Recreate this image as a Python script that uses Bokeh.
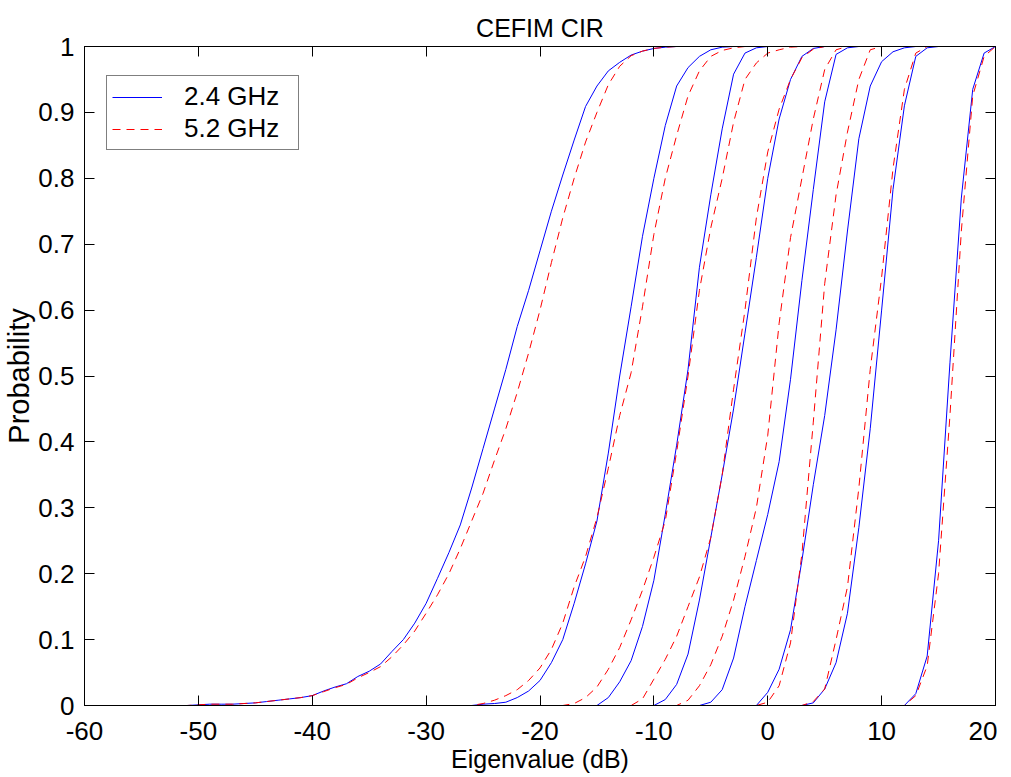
from bokeh.plotting import figure
from bokeh.models import (LinearAxis, FixedTicker, Range1d, Legend, LegendItem,
                          CustomJSTickFormatter)
from bokeh.embed import file_html
from bokeh.resources import INLINE

# ---------------- data ----------------
x_db = list(range(-55, 21))          # eigenvalue grid (dB)

x_ticks = [-60, -50, -40, -30, -20, -10, 0, 10, 20]
x_tick_labels = ["-60", "-50", "-40", "-30", "-20", "-10", "0", "10", "20"]
y_ticks = [0, 0.1, 0.2, 0.3, 0.4, 0.5, 0.6, 0.7, 0.8, 0.9, 1]
y_tick_labels = ["0", "0.1", "0.2", "0.3", "0.4", "0.5", "0.6", "0.7", "0.8", "0.9", "1"]

# first grid value (dB) of each listed CDF segment; before it P=0, after it P=1
blue_first = [-50, -25, -14, -9, -5, 0, 4, 13]
red_first = [-50, -25, -17, -11, -7, 0, 4, 13]

# 2.4 GHz eigenvalue CDFs
b1 = [0.001, 0.002, 0.002, 0.002, 0.003, 0.004, 0.006, 0.008, 0.010, 0.012, 0.015,
      0.022, 0.028, 0.033, 0.044, 0.052, 0.063, 0.082, 0.100, 0.125, 0.155, 0.193,
      0.232, 0.274, 0.330, 0.390, 0.450, 0.510, 0.575, 0.630, 0.690, 0.750, 0.805,
      0.858, 0.909, 0.940, 0.963, 0.976, 0.987, 0.993, 0.997, 0.999]
b2 = [0.002, 0.003, 0.005, 0.012, 0.022, 0.038, 0.065, 0.100, 0.155, 0.215, 0.280,
      0.383, 0.500, 0.605, 0.712, 0.800, 0.880, 0.940, 0.968, 0.985, 0.995, 0.999]
b3 = [0.012, 0.036, 0.068, 0.120, 0.190, 0.290, 0.395, 0.510, 0.665, 0.775, 0.875,
      0.958, 0.990, 0.998]
b4 = [0.009, 0.032, 0.078, 0.160, 0.255, 0.350, 0.450, 0.565, 0.680, 0.800, 0.890,
      0.950, 0.985, 0.997]
b5 = [0.005, 0.024, 0.072, 0.150, 0.220, 0.290, 0.370, 0.495, 0.645, 0.783, 0.916,
      0.988, 0.998]
b6 = [0.020, 0.055, 0.115, 0.220, 0.335, 0.440, 0.570, 0.720, 0.860, 0.940, 0.977,
      0.992, 0.998]
b7 = [0.004, 0.025, 0.065, 0.140, 0.270, 0.420, 0.600, 0.783, 0.910, 0.985, 0.998]
b8 = [0.018, 0.075, 0.250, 0.520, 0.770, 0.935, 0.990]

# 5.2 GHz eigenvalue CDFs
r1 = [0.001, 0.002, 0.002, 0.002, 0.003, 0.004, 0.006, 0.008, 0.010, 0.012, 0.015,
      0.021, 0.027, 0.032, 0.042, 0.050, 0.059, 0.074, 0.092, 0.113, 0.140, 0.168,
      0.200, 0.238, 0.280, 0.322, 0.372, 0.420, 0.475, 0.535, 0.600, 0.672, 0.740,
      0.800, 0.855, 0.900, 0.942, 0.970, 0.986, 0.993, 0.997, 0.999]
r2 = [0.003, 0.008, 0.015, 0.024, 0.038, 0.057, 0.085, 0.125, 0.180, 0.226, 0.285,
      0.360, 0.440, 0.505, 0.605, 0.715, 0.800, 0.865, 0.925, 0.963, 0.985, 0.994,
      0.998]
r3 = [0.003, 0.012, 0.028, 0.055, 0.088, 0.130, 0.175, 0.225, 0.280, 0.385, 0.500,
      0.630, 0.725, 0.800, 0.885, 0.950, 0.975, 0.990, 0.995, 0.999]
r4 = [0.010, 0.040, 0.070, 0.105, 0.150, 0.195, 0.255, 0.350, 0.480, 0.600, 0.740,
      0.840, 0.905, 0.950, 0.983, 0.996]
r5 = [0.008, 0.030, 0.062, 0.105, 0.160, 0.226, 0.300, 0.410, 0.580, 0.710, 0.800,
      0.890, 0.965, 0.995]
r6 = [0.005, 0.030, 0.095, 0.230, 0.430, 0.640, 0.775, 0.870, 0.950, 0.995]
r7 = [0.006, 0.025, 0.100, 0.180, 0.330, 0.510, 0.650, 0.815, 0.935, 0.990]
r8 = [0.015, 0.060, 0.200, 0.440, 0.720, 0.925, 0.985]

blue_curves = [b1, b2, b3, b4, b5, b6, b7, b8]
red_curves = [r1, r2, r3, r4, r5, r6, r7, r8]
series_labels = ["2.4 GHz", "5.2 GHz"]
chart_title = "CEFIM CIR"


def full_cdf(first, vals):
    n = len(x_db)
    lead = [0.0] * (first - x_db[0])
    return (lead + vals + [1.0] * n)[:n]


# ---------------- figure ----------------
FONT = "Liberation Sans"

p = figure(frame_width=911, frame_height=659,
           x_range=Range1d(-60, 20), y_range=Range1d(0, 1),
           output_backend="svg", toolbar_location=None,
           min_border_left=83, min_border_right=2,
           min_border_top=46, min_border_bottom=50,
           background_fill_color="white", border_fill_color="white")

p.title.text = chart_title
p.title.align = "center"
p.title.text_font = FONT
p.title.text_font_size = "25px"
p.title.text_font_style = "normal"
p.title.text_color = "black"

p.xgrid.visible = False
p.ygrid.visible = False
p.outline_line_color = "black"
p.outline_line_width = 1

x_over = {t: s for t, s in zip(x_ticks, x_tick_labels)}
y_over = {t: s for t, s in zip(y_ticks, y_tick_labels)}


def style_axis(ax):
    ax.axis_line_color = "black"
    ax.major_tick_line_color = "black"
    ax.major_tick_in = 10
    ax.major_tick_out = 0
    ax.minor_tick_line_color = None
    ax.major_label_text_font = FONT
    ax.major_label_text_font_size = "26px"
    ax.major_label_text_color = "black"
    ax.axis_label_text_font = FONT
    ax.axis_label_text_font_size = "25px"
    ax.axis_label_text_font_style = "normal"
    ax.axis_label_text_color = "black"


p.xaxis.ticker = FixedTicker(ticks=x_ticks)
p.yaxis.ticker = FixedTicker(ticks=y_ticks)
p.xaxis.major_label_overrides = x_over
p.yaxis.major_label_overrides = y_over
p.xaxis.axis_label = "Eigenvalue (dB)"
p.yaxis.axis_label = "Probability"
for ax in (p.xaxis[0], p.yaxis[0]):
    style_axis(ax)
p.yaxis.axis_label_text_font_size = "29px"
p.xaxis.major_label_standoff = 16
p.yaxis.major_label_standoff = 10
p.xaxis.axis_label_standoff = 2
p.yaxis.axis_label_standoff = 0

blank = CustomJSTickFormatter(code="return '';")
top_ax = LinearAxis(ticker=FixedTicker(ticks=x_ticks), formatter=blank)
right_ax = LinearAxis(ticker=FixedTicker(ticks=y_ticks), formatter=blank)
for ax in (top_ax, right_ax):
    style_axis(ax)
    ax.major_label_standoff = 0
p.add_layout(top_ax, "above")
p.add_layout(right_ax, "right")

blue_r = []
for first, vals in zip(blue_first, blue_curves):
    blue_r.append(p.line(x_db, full_cdf(first, vals), line_color="#0000ff", line_width=1))
red_r = []
for first, vals in zip(red_first, red_curves):
    red_r.append(p.line(x_db, full_cdf(first, vals), line_color="#ff0000",
                        line_width=1, line_dash="8 6"))

legend = Legend(items=[LegendItem(label=series_labels[0], renderers=[blue_r[0]]),
                       LegendItem(label=series_labels[1], renderers=[red_r[0]])],
                location=(22, 555))
legend.border_line_color = "black"
legend.border_line_width = 1
legend.background_fill_color = "white"
legend.background_fill_alpha = 1
legend.label_text_font = FONT
legend.label_text_font_size = "26px"
legend.label_text_color = "black"
legend.padding = 5
legend.spacing = 1
legend.glyph_width = 50
legend.glyph_height = 30
legend.label_height = 30
legend.label_standoff = 22
legend.label_width = 109
legend.margin = 0
p.add_layout(legend)

open("out.html", "w").write(file_html(p, INLINE))
